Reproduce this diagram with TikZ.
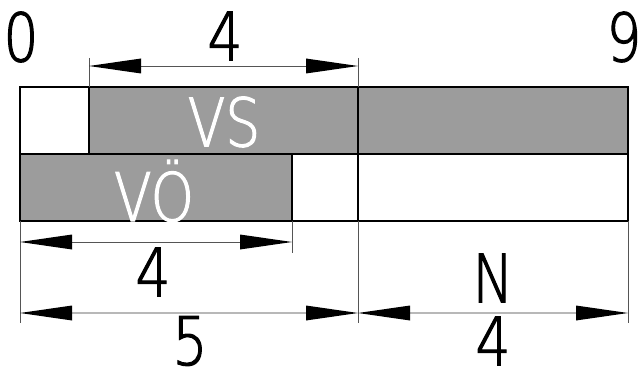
\documentclass[tikz,border=0pt]{standalone}
\usepackage{fontspec}
\newfontfamily\din{DejaVu Sans ExtraLight}[FakeStretch=0.82,FakeBold=1.6]
\usetikzlibrary{arrows.meta}
\definecolor{cellgray}{HTML}{9C9C9C}
\definecolor{dimdark}{HTML}{555555}
\definecolor{dimlight}{HTML}{B8B8B8}
\tikzset{
  cell/.style={draw=black, line width=2.6pt},
  grayfill/.style={cell, fill=cellgray},
  whitefill/.style={cell, fill=white},
  extline/.style={draw=dimdark, line width=0.8pt},
  dimtip/.style={{Triangle[length=52pt,width=15pt,color=black,line width=0pt]}-{Triangle[length=52pt,width=15pt,color=black,line width=0pt]}},
  dimthin/.style={dimtip, draw=dimdark, line width=0.8pt},
  dimthick/.style={dimtip, draw=dimlight, line width=2pt},
  lbl/.style={inner sep=0pt, font=\din\fontsize{67}{67}\selectfont, text=black},
  wlbl/.style={lbl, text=white},
}
\begin{document}
\begin{tikzpicture}[x=1pt,y=-1pt]
\useasboundingbox (0,0) rectangle (642,374);
% cells
\path[whitefill] (20,87) rectangle (89,154);
\path[grayfill] (89,87) rectangle (358,154);
\path[grayfill] (358,87) rectangle (628,154);
\path[grayfill] (20,154) rectangle (292,221);
\path[whitefill] (292,154) rectangle (358,221);
\path[whitefill] (358,154) rectangle (628,221);
\node[wlbl] (vs) at (224,122) {VS};
\node[wlbl] (vo) at (154,191) {VÖ};
% scale labels
\node[lbl] (zero) at (21,37) {0};
\node[lbl] (nine) at (624,37) {9};
% extension lines
\coordinate (t1a) at (89,58);  \coordinate (t1b) at (89,87);
\coordinate (t2a) at (358,58); \coordinate (t2b) at (358,87);
\coordinate (b0a) at (20,221); \coordinate (b0b) at (20,323);
\coordinate (b4a) at (292,221); \coordinate (b4b) at (292,253);
\coordinate (b5a) at (358,221); \coordinate (b5b) at (358,323);
\coordinate (b9a) at (628,221); \coordinate (b9b) at (628,323);
\draw[extline] (t1a) -- (t1b);
\draw[extline] (t2a) -- (t2b);
\draw[extline] (b0a) -- (b0b);
\draw[extline] (b4a) -- (b4b);
\draw[extline] (b5a) -- (b5b);
\draw[extline] (b9a) -- (b9b);
% dimension lines
\coordinate (d1l) at (89,66);  \coordinate (d1r) at (358,66);
\coordinate (d2l) at (20,242); \coordinate (d2r) at (292,242);
\coordinate (d3l) at (20,313); \coordinate (d3r) at (358,313);
\coordinate (d4l) at (358,313); \coordinate (d4r) at (628,313);
\draw[dimthin] (d1l) -- (d1r);
\draw[dimthin] (d2l) -- (d2r);
\draw[dimthick] (d3l) -- (d3r);
\draw[dimthick] (d4l) -- (d4r);
% dimension labels
\node[lbl] (top4) at (225,36) {4};
\node[lbl] (vo4) at (153,272) {4};
\node[lbl] (five) at (190,341) {5};
\node[lbl] (nn) at (493,278) {N};
\node[lbl] (n4) at (493,341) {4};
\end{tikzpicture}
\end{document}
